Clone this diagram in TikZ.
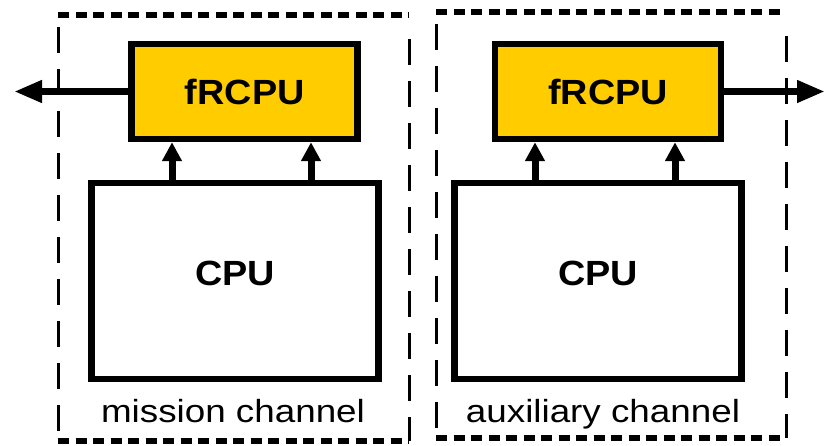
\documentclass[tikz,border=0pt]{standalone}
\usepackage{fontspec}
\setmainfont{Liberation Sans}
\usetikzlibrary{arrows.meta}
\definecolor{frgold}{HTML}{FFCC00}
\tikzset{%
	fr box/.style={
		rectangle,
		draw=black,
		fill=frgold,
		line width=6.5pt,
		inner sep=0pt,
		minimum width=226pt,
		minimum height=95pt,
		font=\fontsize{35}{40}\selectfont\bfseries
	},
	cpu box/.style={
		rectangle,
		draw=black,
		fill=white,
		line width=6.5pt,
		inner sep=0pt,
		minimum width=287pt,
		minimum height=196pt,
		font=\fontsize{35}{40}\selectfont\bfseries
	},
	wide text/.style={xscale=#1, transform shape},
	chan label/.style={anchor=base, inner sep=0pt, font=\fontsize{32}{36}\selectfont, wide text=1.15},
	chan edge h/.style={line width=5.5pt, dash pattern=on 11pt off 6.5pt},
	chan edge v/.style={line width=3pt, dash pattern=on 26pt off 16pt},
	sig arrow/.style={line width=7pt, -{Triangle[length=28pt,width=21pt]}},
	up arrow/.style={line width=7pt, -{Triangle[length=19pt,width=19pt]}},
}
\newcommand{\cpulift}[1]{\raisebox{16pt}{\scalebox{1.08}[1]{#1}}}

\begin{document}
\begin{tikzpicture}[x=1pt,y=-1pt]
		\useasboundingbox (0,0) rectangle (825,446);
		% Channels
		\draw[chan edge h] (58,15) -- (409,15);
		\draw[chan edge h] (58,441) -- (409,441);
		\draw[chan edge v] (58,27) -- (58,441);
		\draw[chan edge v] (409,39) -- (409,441);
		\draw[chan edge h] (436,12) -- (786,12);
		\draw[chan edge h] (436,438) -- (786,438);
		\draw[chan edge v] (436,24) -- (436,438);
		\draw[chan edge v] (786,36) -- (786,438);
		\node[chan label] (lbl-mission) at (233,422) {mission channel};
		\node[chan label] (lbl-aux) at (603,422) {auxiliary channel};
		
		% Blocks
		\node[fr box] (fr-mission) at (244.7,91.5) {\scalebox{1.08}[1]{fRCPU}};
		\node[fr box] (fr-aux) at (608,91.5) {\scalebox{1.08}[1]{fRCPU}};
		\node[cpu box] (cpu-mission) at (235,281) {\cpulift{CPU}};
		\node[cpu box] (cpu-aux) at (598,281) {\cpulift{CPU}};
		
		% Edges
		\coordinate (out-mission) at (14,90);
		\coordinate (out-aux) at (825,90);
		\draw[sig arrow] (fr-mission.west) -- (out-mission |- fr-mission.west);
		\draw[sig arrow] (fr-aux.east) -- (out-aux |- fr-aux.east);
		
		\foreach \x [count=\i] in {172,311,535,675}
		\coordinate (tap-\i) at (\x,0);
		\foreach \i/\src/\dst in {1/cpu-mission/fr-mission,2/cpu-mission/fr-mission,3/cpu-aux/fr-aux,4/cpu-aux/fr-aux}
		\draw[up arrow] (\src.north -| tap-\i) -- (\dst.south -| tap-\i);
		
\end{tikzpicture}
\end{document}
